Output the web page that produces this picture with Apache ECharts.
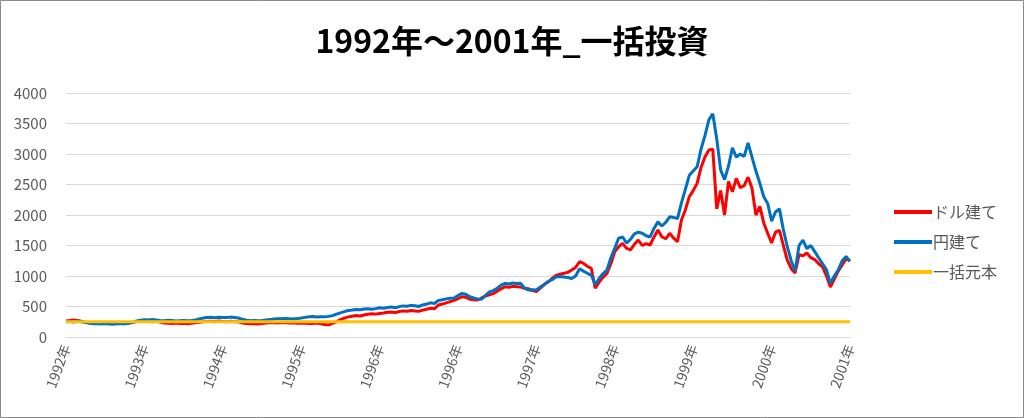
<!DOCTYPE html>
<html><head><meta charset="utf-8">
<script src="https://cdn.jsdelivr.net/npm/echarts@6/dist/echarts.min.js"></script>
<style>html,body{margin:0;padding:0;background:#fff}#c{width:1024px;height:418px}</style>
</head><body><div id="c"></div>
<script>
const titleText = '1992年～2001年_一括投資';
const seriesNames = ['ドル建て', '円建て', '一括元本'];
const tickLabels = ['1992年','1993年','1994年','1995年','1996年','1996年','1997年','1998年','1999年','2000年','2001年'];
const yTicks = [0, 500, 1000, 1500, 2000, 2500, 3000, 3500, 4000];
const principal = 250;

const dollarValues = [
262,270,280,272,255,240,232,228,234,226,
232,224,230,236,228,222,230,240,252,258,
262,255,250,258,245,230,225,222,228,220,
225,218,224,232,240,250,255,258,250,262,
256,250,258,252,248,230,222,218,220,215,
222,228,232,236,230,238,234,228,232,226,
230,225,222,220,228,215,205,200,225,250,
285,310,330,340,352,345,360,372,380,375,
385,392,405,410,400,418,428,422,435,428,
420,440,455,470,465,525,540,560,580,600,
630,660,650,620,610,606,640,670,690,710,
750,790,825,815,830,825,820,800,790,760,
745,800,860,900,960,1010,1030,1044,1060,1098,
1140,1234,1207,1160,1126,800,900,980,1044,1200,
1400,1480,1535,1453,1430,1520,1590,1500,1530,1508,
1640,1754,1644,1610,1700,1620,1562,1918,2082,2300,
2400,2519,2780,2950,3065,3080,2100,2400,2000,2550,
2380,2600,2450,2480,2620,2440,2000,2140,1870,1700,
1540,1720,1750,1500,1260,1120,1050,1350,1330,1380,
1300,1270,1200,1150,1000,820,950,1080,1180,1280,1250
];
const yenValues = [
250,258,246,262,250,238,226,218,222,214,
220,212,208,216,222,215,225,238,262,275,
282,278,285,280,272,268,275,270,262,268,
272,265,270,280,295,310,318,322,315,325,
320,318,326,320,312,290,275,268,272,265,
270,278,285,295,300,298,305,300,295,302,
310,322,330,335,328,332,330,338,350,375,
395,415,435,442,450,445,458,462,455,465,
478,470,485,492,480,498,510,505,518,512,
500,525,540,560,550,600,610,625,635,640,
680,715,700,660,640,625,620,680,740,760,
800,850,880,870,885,878,880,800,770,775,
770,820,860,910,940,985,990,985,975,960,
1000,1120,1080,1044,1016,860,960,1040,1098,1300,
1460,1620,1640,1540,1600,1690,1720,1700,1660,1640,
1780,1890,1820,1880,1970,1960,1940,2200,2420,2650,
2720,2790,3080,3300,3560,3660,3250,2740,2580,2800,
3100,2950,3000,2960,3180,2950,2720,2520,2300,2190,
1900,2050,2100,1760,1480,1250,1080,1500,1590,1450,
1500,1400,1300,1200,1100,880,1000,1100,1250,1320,1240
];

const step = (yenValues.length - 1) / (tickLabels.length - 1);
const categories = yenValues.map((_, i) => (i % step === 0 ? tickLabels[i / step] : ''));
const principalValues = yenValues.map(() => principal);

const font = "'Noto Sans CJK JP', 'Noto Sans', sans-serif";
const chart = echarts.init(document.getElementById('c'), null, {renderer: 'canvas'});
chart.setOption({
  animation: false,
  backgroundColor: '#ffffff',
  title: {
    text: titleText, left: 'center', top: 20,
    textStyle: {fontFamily: font, fontSize: 32, fontWeight: 'bold', color: '#000000'}
  },
  graphic: [{type: 'rect', shape: {x: 0.5, y: 0.5, width: 1023, height: 417},
    style: {fill: 'none', stroke: '#8c8c8c', lineWidth: 1}, silent: true, z: 100}],
  grid: {left: 66, right: 174, top: 93, bottom: 81, containLabel: false},
  legend: {
    orient: 'vertical', left: 889, top: 199, itemGap: 14,
    icon: 'rect', itemWidth: 38, itemHeight: 4,
    textStyle: {fontFamily: font, fontSize: 16, color: '#595959', padding: [0, 0, 0, -4]},
    data: seriesNames
  },
  xAxis: {
    type: 'category', data: categories, boundaryGap: false,
    axisLine: {show: true, lineStyle: {color: '#d9d9d9', width: 1}},
    axisTick: {show: false},
    axisLabel: {interval: step - 1, rotate: 70, margin: 8, fontFamily: font, fontSize: 14, color: '#595959'},
    splitLine: {show: false}
  },
  yAxis: {
    type: 'value', min: yTicks[0], max: yTicks[yTicks.length - 1], interval: yTicks[1] - yTicks[0],
    axisLine: {show: false}, axisTick: {show: false},
    axisLabel: {margin: 19, fontFamily: font, fontSize: 15, color: '#595959', formatter: v => String(v)},
    splitLine: {lineStyle: {color: '#d9d9d9', width: 1}}
  },
  series: [
    {name: seriesNames[0], type: 'line', data: dollarValues, symbol: 'none', lineStyle: {color: '#ff0000', width: 3}, itemStyle: {color: '#ff0000'}},
    {name: seriesNames[1], type: 'line', data: yenValues, symbol: 'none', lineStyle: {color: '#0070c0', width: 3}, itemStyle: {color: '#0070c0'}},
    {name: seriesNames[2], type: 'line', data: principalValues, symbol: 'none', lineStyle: {color: '#ffc000', width: 3}, itemStyle: {color: '#ffc000'}}
  ]
});
</script></body></html>
